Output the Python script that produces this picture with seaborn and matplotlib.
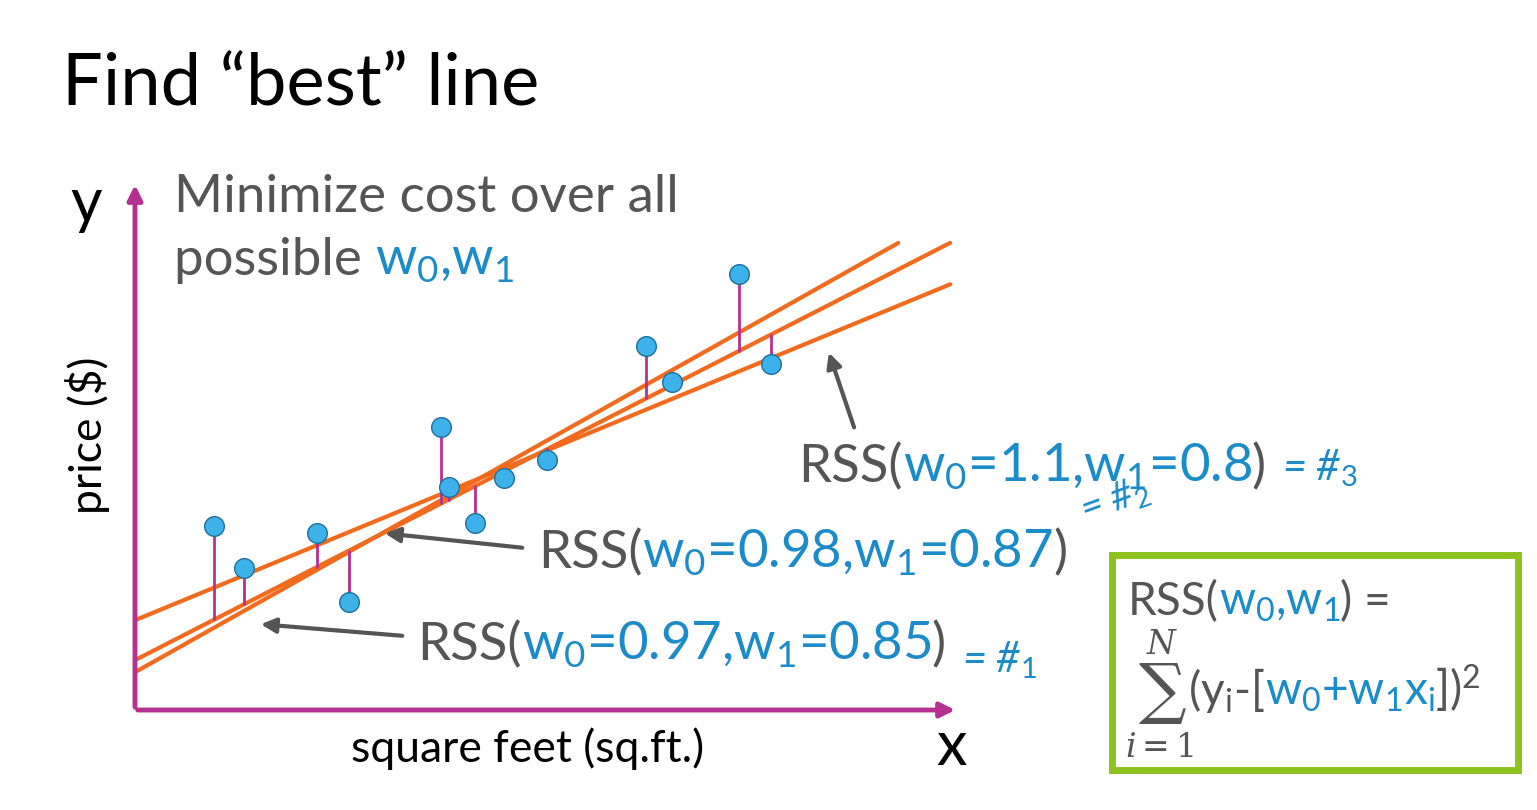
import numpy as np
import pandas as pd
import matplotlib
matplotlib.use("Agg")
import matplotlib.pyplot as plt
import seaborn as sns

# data in plot units (x: 0-10, y: 0-10)
sqft = [0.98, 1.35, 2.25, 2.64, 3.78, 3.87, 4.20, 4.56, 5.08, 6.31, 6.63, 7.46, 7.85]
price = [3.50, 2.70, 3.37, 2.06, 5.39, 4.25, 3.56, 4.42, 4.76, 6.93, 6.25, 8.30, 6.59]
line_w0 = [0.72, 0.95, 1.71]
line_w1 = [0.868, 0.79, 0.636]
line_xmax = [9.42, 10.06, 10.06]

GRAY = "#555555"
BLUE = "#1b8bc9"
ORANGE = "#f26b1d"
MAG = "#b5318f"
GREEN = "#8dc21f"

sns.set_style("white")
plt.rcParams["font.family"] = ["Lato", "DejaVu Sans"]
plt.rcParams["mathtext.fontset"] = "custom"
plt.rcParams["mathtext.rm"] = "Lato"
plt.rcParams["mathtext.it"] = "Lato:italic"

W, H = 1537, 810
fig = plt.figure(figsize=(W / 100, H / 100), dpi=100)

def fx(px):
    return px / W

def fy(py):
    return 1 - py / H

ax = fig.add_axes([fx(135), fy(710), fx(955) - fx(135), fy(185) - fy(710)])
ax.set_xlim(0, 10.12)
ax.set_ylim(0, 10)
ax.axis("off")

# fitted lines
for w0, w1, xm in zip(line_w0, line_w1, line_xmax):
    xs = np.array([0, xm])
    sns.lineplot(x=xs, y=w0 + w1 * xs, color=ORANGE, lw=3, ax=ax)

# residual stems to middle line
for x, y in zip(sqft, price):
    ax.plot([x, x], [y, line_w0[1] + line_w1[1] * x], color=MAG, lw=2, zorder=2)

df = pd.DataFrame({"sqft": sqft, "price": price})
sns.scatterplot(data=df, x="sqft", y="price", s=200, color="#3db2ea",
                edgecolor="#1d6f9c", linewidth=1, zorder=5, ax=ax)

# axis arrows
arr = dict(arrowstyle="-|>", color=MAG, lw=3.5, mutation_scale=22)
fig.add_artist(matplotlib.patches.FancyArrowPatch((fx(135), fy(710)), (fx(958), fy(710)),
               transform=fig.transFigure, **arr))
fig.add_artist(matplotlib.patches.FancyArrowPatch((fx(135), fy(710)), (fx(135), fy(182)),
               transform=fig.transFigure, **arr))

renderer = fig.canvas.get_renderer()

def seg_text(px, py, parts, size):
    x = fx(px)
    for s, c in parts:
        t = fig.text(x, fy(py), s, color=c, fontsize=size, va="baseline", ha="left")
        bb = t.get_window_extent(renderer)
        x = bb.x1 / fig.bbox.width

fig.text(fx(62), fy(106), "Find “best” line", fontsize=52, color="black")
fig.text(fx(70), fy(222), "y", fontsize=44, color="black")
fig.text(fx(936), fy(765), "x", fontsize=44, color="black")
fig.text(fx(528), fy(762), "square feet (sq.ft.)", fontsize=32, color="black", ha="center")
fig.text(fx(88), fy(435), "price ($)", fontsize=32, color="black", rotation=90,
         ha="center", va="center")
seg_text(174, 212, [("Minimize cost over all", GRAY)], 38)
seg_text(174, 275, [("possible ", GRAY), ("w$_0$,w$_1$", BLUE)], 38)

seg_text(798, 482, [("RSS(", GRAY), ("w$_0$=1.1,w$_1$=0.8", BLUE), (")", GRAY)], 38)
seg_text(538, 568, [("RSS(", GRAY), ("w$_0$=0.98,w$_1$=0.87", BLUE), (")", GRAY)], 38)
seg_text(417, 660, [("RSS(", GRAY), ("w$_0$=0.97,w$_1$=0.85", BLUE), (")", GRAY)], 38)

# handwritten-ish notes
fig.text(fx(1282), fy(480), "= #$_3$", fontsize=30, color=BLUE, style="italic")
fig.text(fx(1075), fy(522), "= #$_2$", fontsize=28, color=BLUE, style="italic", rotation=20)
fig.text(fx(962), fy(672), "= #$_1$", fontsize=30, color=BLUE, style="italic")

# pointer arrows
parr = dict(arrowstyle="-|>", color=GRAY, lw=3, mutation_scale=22)
for (x0, y0), (x1, y1) in [((855, 430), (828, 350)), ((525, 548), (382, 533)),
                           ((405, 636), (258, 624))]:
    fig.add_artist(matplotlib.patches.FancyArrowPatch((fx(x0), fy(y0)), (fx(x1), fy(y1)),
                   transform=fig.transFigure, **parr))

# formula box
fig.add_artist(matplotlib.patches.Rectangle((fx(1112), fy(770)), fx(1518) - fx(1112),
               fy(555) - fy(770), fill=False, edgecolor=GREEN, lw=5,
               transform=fig.transFigure))
seg_text(1128, 615, [("RSS(", GRAY), ("w$_0$,w$_1$", BLUE), (") =", GRAY)], 33)
fig.text(fx(1160), fy(712), r"$\sum_{i=1}^{N}$", fontsize=34, color=GRAY,
         family="DejaVu Serif", ha="center", va="baseline",
         math_fontfamily="dejavuserif")
seg_text(1188, 705, [("(y$_\\mathrm{i}$-[", GRAY), ("w$_0$+w$_1$x$_\\mathrm{i}$", BLUE),
                     ("])$^2$", GRAY)], 33)

fig.savefig("out.png", dpi=100)
